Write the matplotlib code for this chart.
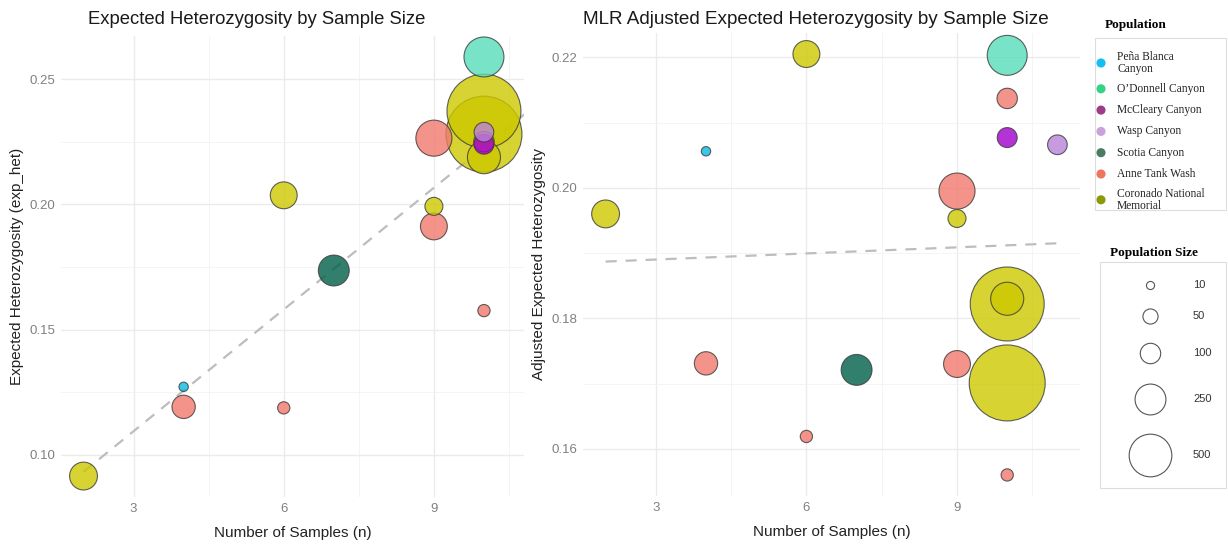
import matplotlib.pyplot as plt
import matplotlib.ticker as mticker
from matplotlib.patches import Rectangle
import numpy as np

plt.rcParams['font.family'] = ['Liberation Sans', 'DejaVu Sans']

# ---- data ----
populations = ["Peña Blanca Canyon", "O’Donnell Canyon", "McCleary Canyon", "Wasp Canyon",
               "Scotia Canyon", "Anne Tank Wash", "Coronado National Memorial"]
legend_labels = ["Peña Blanca\nCanyon", "O’Donnell Canyon", "McCleary Canyon", "Wasp Canyon",
                 "Scotia Canyon", "Anne Tank Wash", "Coronado National\nMemorial"]

site_pop = ["Coronado National Memorial", "Peña Blanca Canyon", "Anne Tank Wash", "Anne Tank Wash",
            "Coronado National Memorial", "Scotia Canyon", "Anne Tank Wash", "Coronado National Memorial",
            "Anne Tank Wash", "Anne Tank Wash", "O’Donnell Canyon", "Anne Tank Wash",
            "McCleary Canyon", "Wasp Canyon", "Coronado National Memorial",
            "Coronado National Memorial", "Coronado National Memorial"]
n_samples = [2, 4, 4, 6, 6, 7, 9, 9, 9, 10, 10, 10, 10, 10, 10, 10, 10]
n_samples_mlr = [2, 4, 4, 6, 6, 7, 9, 9, 9, 10, 10, 10, 10, 11, 10, 10, 10]
pop_size = [200, 15, 135, 30, 185, 250, 350, 75, 185, 30, 435, 100, 95, 92, 1580, 1670, 290]
exp_het = [0.0916, 0.1272, 0.1192, 0.1188, 0.2036, 0.1736, 0.2264, 0.1992, 0.1912, 0.1576,
           0.2588, 0.2250, 0.2240, 0.2288, 0.2372, 0.2280, 0.2188]
adj_het = [0.1960, 0.2056, 0.1731, 0.1619, 0.2205, 0.1721, 0.1995, 0.1953, 0.1730, 0.1560,
           0.2203, 0.2137, 0.2077, 0.2066, 0.1822, 0.1701, 0.1830]

trend_n = [2, 11]
trend_exp = [0.0933, 0.2390]
trend_adj = [0.1887, 0.1915]

size_breaks = [10, 50, 100, 250, 500]

# colours
point_colors = {"Peña Blanca Canyon": "#0BBAE0", "O’Donnell Canyon": "#56DDBA",
                "McCleary Canyon": "#A100CD", "Wasp Canyon": "#BA82D9",
                "Scotia Canyon": "#005F48", "Anne Tank Wash": "#F1786D",
                "Coronado National Memorial": "#CCC800"}
legend_colors = ["#12BFF0", "#34D282", "#9C3D8C", "#C9A2DC", "#4B7B62", "#EE7560", "#8C9A0A"]

DPI = 100


def radius_px(v):
    return 1.2 + 0.9 * np.sqrt(v)


def size_pts(v):
    return (2 * radius_px(np.asarray(v, dtype=float)) * 72 / DPI) ** 2


fig = plt.figure(figsize=(12.28, 5.44), dpi=DPI)
W, H = 1228, 544


def px_axes(x0, y0, x1, y1):
    return fig.add_axes([x0 / W, 1 - y1 / H, (x1 - x0) / W, (y1 - y0) / H])


ax1 = px_axes(61, 36, 524, 497)
ax2 = px_axes(583, 33, 1080, 496)


def bubble_panel(ax, xs, ys, trend_y, ylabel, ymaj):
    order = np.argsort(pop_size, kind='stable')[::-1]
    xs = np.asarray(xs)[order]
    ys = np.asarray(ys)[order]
    sz = np.asarray(pop_size)[order]
    cols = [point_colors[site_pop[i]] for i in order]
    ax.plot(trend_n, trend_y, ls=(0, (5, 4)), color='#BDBDBD', lw=1.6, zorder=2)
    ax.scatter(xs, ys, s=size_pts(sz), c=cols, alpha=0.8, edgecolors='#3a3a3a',
               linewidths=0.8, zorder=3)
    ax.set_xticks([3, 6, 9])
    ax.xaxis.set_minor_locator(mticker.MultipleLocator(1.5))
    ax.yaxis.set_major_locator(mticker.MultipleLocator(ymaj))
    ax.yaxis.set_minor_locator(mticker.AutoMinorLocator(2))
    ax.yaxis.set_major_formatter(mticker.FormatStrFormatter('%.2f'))
    ax.grid(True, which='major', color='#EBEBEB', lw=1.0)
    ax.grid(True, which='minor', color='#F3F3F3', lw=0.6)
    ax.set_axisbelow(True)
    for sp in ax.spines.values():
        sp.set_visible(False)
    ax.tick_params(which='both', length=0, labelsize=9.5, labelcolor='#808080', pad=4)
    ax.set_xlabel("Number of Samples (n)", fontsize=11, color='#222222', labelpad=8)
    ax.set_ylabel(ylabel, fontsize=11, color='#222222', labelpad=4)


bubble_panel(ax1, n_samples, exp_het, trend_exp, "Expected Heterozygosity (exp_het)", 0.05)
ax1.set_xlim(1.55, 10.8)
lo, hi = min(exp_het), max(exp_het)
ax1.set_ylim(lo - 0.05 * (hi - lo), hi + 0.05 * (hi - lo))

bubble_panel(ax2, n_samples_mlr, adj_het, trend_adj, "Adjusted Expected Heterozygosity", 0.02)
lo, hi = min(n_samples_mlr), max(n_samples_mlr)
ax2.set_xlim(lo - 0.05 * (hi - lo), hi + 0.05 * (hi - lo))
lo, hi = min(adj_het), max(adj_het)
ax2.set_ylim(lo - 0.05 * (hi - lo), hi + 0.05 * (hi - lo))

fig.text(88 / W, 1 - 20 / H, "Expected Heterozygosity by Sample Size", ha='left', va='center',
         fontsize=13.3, color='#1a1a1a')
fig.text(583 / W, 1 - 20 / H, "MLR Adjusted Expected Heterozygosity by Sample Size", ha='left',
         va='center', fontsize=13.6, color='#1a1a1a')

# ---- legends drawn in pixel space ----
lax = fig.add_axes([0, 0, 1, 1], facecolor='none')
lax.set_xlim(0, W)
lax.set_ylim(H, 0)
lax.axis('off')

serif = ['Liberation Serif', 'DejaVu Serif']
lax.text(1136, 25, "Population", ha='center', va='center', fontsize=9.5, fontweight='bold',
         family=serif)
lax.add_patch(Rectangle((1095, 38), 131, 172, fill=False, edgecolor='#DDDDDD', lw=0.8))
y = 47.85
for lab, col in zip(legend_labels, legend_colors):
    nlines = lab.count("\n") + 1
    h = 21.3 + 9 * (nlines - 1)
    yc = y + h / 2
    lax.scatter([1101], [yc], s=size_pts(14), color=col, edgecolors='none')
    lax.text(1117, yc, lab, ha='left', va='center', fontsize=8.3, family=serif,
             linespacing=0.95, color='#222222')
    y += h

lax.text(1154, 253, "Population Size", ha='center', va='center', fontsize=9.5, fontweight='bold',
         family=serif)
lax.add_patch(Rectangle((1100, 262), 126, 226, fill=False, edgecolor='#DDDDDD', lw=0.8))
yc = 285
prev_r = None
for v in size_breaks:
    r = radius_px(v)
    if prev_r is not None:
        yc += prev_r + r + 19.5
    lax.scatter([1150], [yc], s=size_pts(v), facecolors='white', edgecolors='#555555', linewidths=0.8)
    lax.text(1193, yc, str(v), ha='left', va='center', fontsize=8, color='#333333')
    prev_r = r

fig.savefig("out.png", dpi=DPI)
